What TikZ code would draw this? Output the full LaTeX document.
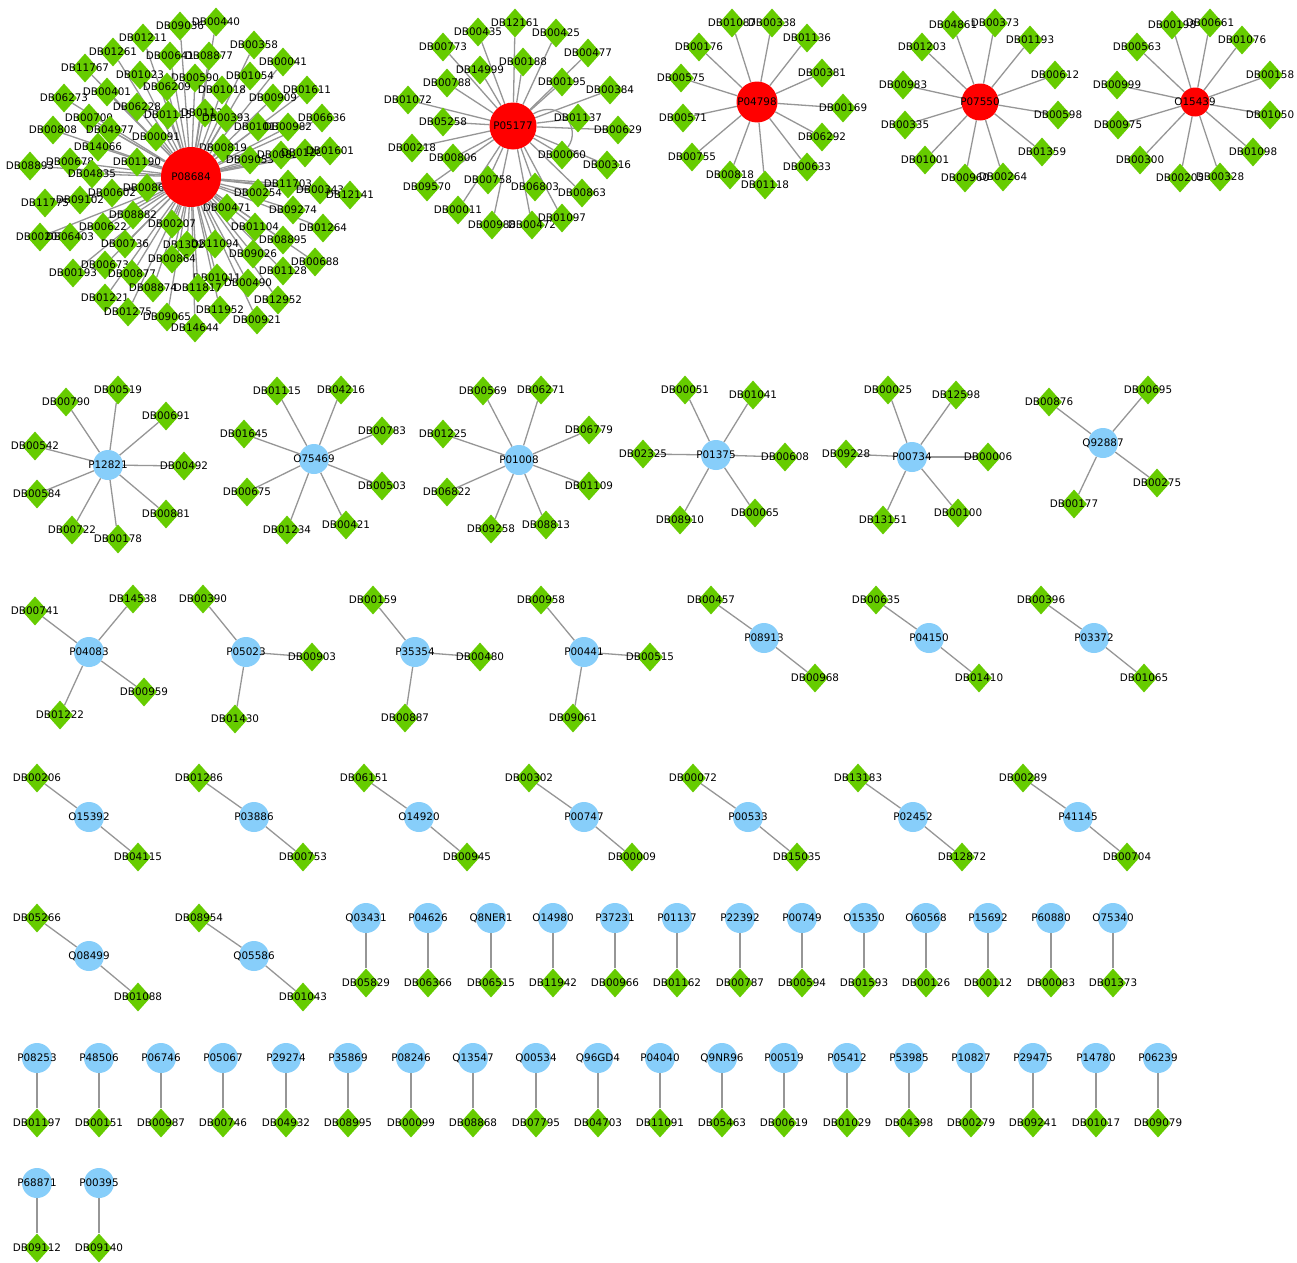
\documentclass[tikz,border=0pt]{standalone}
\usepackage{fontspec}
\newfontfamily\lblfont{DejaVu Sans}
\usetikzlibrary{shapes.geometric}
\pgfdeclarelayer{edgelayer}
\pgfsetlayers{edgelayer,main}
\definecolor{druggreen}{RGB}{102,204,0}
\definecolor{protblue}{RGB}{135,206,250}
\definecolor{hubred}{RGB}{255,0,0}
\definecolor{edgegray}{RGB}{150,150,150}
\newcommand\lblsize{\lblfont\fontsize{10.4}{12}\selectfont}
\tikzset{
  edge/.style={draw=edgegray, line width=1.3pt},
  drug/.style={shape=diamond, fill=druggreen, minimum width=26pt, minimum height=29pt, inner sep=0pt},
  prot/.style={circle, fill=protblue, minimum size=30pt, inner sep=0pt},
  hub/.style={circle, fill=hubred, inner sep=0pt},
  every label/.style={font=\lblsize, inner sep=0pt, text=black},
}
% one target with its drugs: #1 target id, #2 target style, #3 position, #4 drugs id/x/y
\newcommand\starcomp[4]{%
  \foreach \lf/\lx/\ly in {#4}{\node[drug,label={center:\lf}] (#1-\lf) at (\lx,\ly) {};}
  \node[#2,label={center:#1}] (#1) at (#3) {};
  \begin{pgfonlayer}{edgelayer}
    \foreach \lf/\lx/\ly in {#4}{\draw[edge] (#1) -- (#1-\lf);}
  \end{pgfonlayer}
}
\begin{document}
\begin{tikzpicture}[x=1pt,y=-1pt]
\begin{pgfonlayer}{edgelayer}
  \path[fill=white,use as bounding box] (0,0) rectangle (1297,1259);
\end{pgfonlayer}

% ---- large hubs ----
\starcomp{P08684}{hub,minimum size=60pt}{191,177}{DB09036/180/26, DB00440/216/22, DB01211/143/38, DB01261/113/52, DB00641/170/56, DB08877/209/56, DB00358/254/45, DB11767/85/68, DB01023/140/75, DB00590/195/78, DB01054/250/76, DB00041/283/62, DB06209/167/87, DB01018/222/90, DB00401/107/92, DB06273/64/98, DB06228/137/107, DB00700/89/118, DB00909/273/98, DB01611/307/90, DB01115/168/115, DB01136/205/113, DB00393/226/118, DB01012/258/127, DB00982/288/127, DB06636/322/118, DB04977/110/130, DB00091/156/137, DB00808/53/130, DB00819/223/148, DB09053/250/160, DB00822/281/155, DB01283/305/153, DB01601/330/151, DB14066/98/147, DB01190/137/162, DB00678/70/162, DB08893/30/166, DB04835/92/174, DB00862/147/188, DB00602/112/193, DB09102/80/200, DB11775/45/203, DB08882/133/215, DB00622/103/227, DB00203/40/237, DB06403/70/237, DB00207/172/224, DB00254/258/193, DB00471/227/208, DB11703/288/184, DB00343/320/190, DB12141/350/195, DB09274/293/210, DB01104/255/227, DB01264/323/228, DB00736/125/244, DB13025/187/245, DB11094/215/244, DB08895/283/240, DB09026/253/254, DB00864/172/259, DB00688/315/262, DB00193/73/273, DB00673/105/265, DB00877/132/274, DB01011/217/278, DB00490/248/283, DB01128/283/271, DB08874/153/288, DB11817/198/288, DB01221/105/298, DB11952/220/310, DB12952/278/300, DB01275/128/312, DB09065/167/317, DB00921/257/320, DB14644/195/328}

\starcomp{P05177}{hub,minimum size=47pt}{513,126}{DB12161/515/23, DB00435/478/32, DB00425/556/33, DB00773/443/47, DB00477/588/53, DB00188/523/62, DB14999/480/70, DB00195/562/82, DB00788/447/83, DB00384/610/90, DB01072/408/100, DB05258/443/122, DB01137/578/118, DB00629/618/130, DB00218/412/148, DB00806/453/158, DB00060/562/155, DB00316/607/165, DB09570/427/187, DB00758/488/180, DB06803/535/187, DB00863/582/193, DB00011/458/210, DB00988/492/225, DB00472/532/225, DB01097/562/218}
\begin{pgfonlayer}{edgelayer}
  \draw[edge] (P05177) .. controls (560,98) and (582,128) .. (P05177-DB00060);
\end{pgfonlayer}

\starcomp{P04798}{hub,minimum size=41pt}{757,102}{DB01087/732/23, DB00338/772/23, DB01136/807/38, DB00176/699/47, DB00381/822/73, DB00575/681/78, DB00169/843/108, DB00571/683/118, DB06292/822/137, DB00755/692/157, DB00633/807/167, DB00818/730/175, DB01118/765/185}

\starcomp{P07550}{hub,minimum size=37pt}{980,102}{DB04861/953/25, DB00373/995/23, DB01193/1030/40, DB01203/922/47, DB00612/1055/75, DB00983/903/85, DB00598/1058/115, DB00335/905/125, DB01359/1042/152, DB01001/925/160, DB00960/965/178, DB00264/1003/177}

\starcomp{O15439}{hub,minimum size=29pt}{1195,102}{DB00198/1172/25, DB00661/1210/23, DB01076/1242/40, DB00563/1137/47, DB00158/1270/75, DB00999/1117/85, DB01050/1270/115, DB00975/1118/125, DB01098/1253/152, DB00300/1140/160, DB00205/1180/178, DB00328/1220/177}

% ---- second row ----
\starcomp{P12821}{prot}{108,465}{DB00519/118/390, DB00790/66/402, DB00691/166/416, DB00542/35/446, DB00492/184/466, DB00584/37/494, DB00881/166/514, DB00722/72/530, DB00178/118/539}
\starcomp{O75469}{prot}{314,459}{DB01115/277/391, DB04216/341/390, DB01645/244/434, DB00783/382/431, DB00675/247/492, DB00503/382/486, DB01234/287/530, DB00421/346/525}
\starcomp{P01008}{prot}{519,460}{DB00569/483/391, DB06271/541/390, DB01225/443/434, DB06779/589/430, DB06822/447/492, DB01109/589/486, DB09258/491/529, DB08813/546/525}
\starcomp{P01375}{prot}{716,455}{DB00051/685/390, DB01041/753/395, DB02325/643/454, DB00608/785/457, DB08910/680/520, DB00065/755/513}
\starcomp{P00734}{prot}{912,457}{DB00025/888/390, DB12598/956/395, DB09228/846/454, DB00006/988/457, DB13151/883/520, DB00100/958/513}
\starcomp{Q92887}{prot}{1103,443}{DB00876/1049/402, DB00695/1148/390, DB00275/1157/483, DB00177/1074/504}

% ---- third row ----
\starcomp{P04083}{prot}{89,652}{DB00741/35/611, DB14538/133/599, DB00959/144/692, DB01222/60/715}
\starcomp{P05023}{prot}{246,652}{DB00390/203/599, DB00903/312/657, DB01430/235/719}
\starcomp{P35354}{prot}{415,652}{DB00159/373/600, DB00480/480/657, DB00887/405/718}
\starcomp{P00441}{prot}{584,652}{DB00958/541/600, DB00515/650/657, DB09061/573/718}
\starcomp{P08913}{prot}{764,638}{DB00457/711/600, DB00968/815/678}
\starcomp{P04150}{prot}{929,638}{DB00635/876/600, DB01410/979/678}
\starcomp{P03372}{prot}{1094,638}{DB00396/1041/600, DB01065/1144/678}

% ---- fourth row ----
\starcomp{O15392}{prot}{89,817}{DB00206/37/778, DB04115/138/857}
\starcomp{P03886}{prot}{254,817}{DB01286/199/778, DB00753/303/857}
\starcomp{O14920}{prot}{419,817}{DB06151/364/778, DB00945/467/857}
\starcomp{P00747}{prot}{584,817}{DB00302/529/778, DB00009/632/857}
\starcomp{P00533}{prot}{748,817}{DB00072/693/778, DB15035/797/857}
\starcomp{P02452}{prot}{913,817}{DB13183/858/778, DB12872/962/857}
\starcomp{P41145}{prot}{1078,817}{DB00289/1023/778, DB00704/1127/857}

% ---- fifth row ----
\starcomp{Q08499}{prot}{89,956}{DB05266/37/918, DB01088/138/997}
\starcomp{Q05586}{prot}{254,956}{DB08954/199/918, DB01043/303/997}
\foreach \p/\d/\x in {Q03431/DB05829/366, P04626/DB06366/428, Q8NER1/DB06515/491, O14980/DB11942/553, P37231/DB00966/615, P01137/DB01162/677, P22392/DB00787/740, P00749/DB00594/802, O15350/DB01593/864, O60568/DB00126/926, P15692/DB00112/988, P60880/DB00083/1051, O75340/DB01373/1113}{
  \node[prot,label={center:\p}] (\p) at (\x,918) {};
  \node[drug,label={center:\d}] (\p-\d) at (\x,983) {};
  \begin{pgfonlayer}{edgelayer}\draw[edge] (\p) -- (\p-\d);\end{pgfonlayer}
}

% ---- sixth row ----
\foreach \p/\d/\x in {P08253/DB01197/37, P48506/DB00151/99, P06746/DB00987/161, P05067/DB00746/223, P29274/DB04932/286, P35869/DB08995/348, P08246/DB00099/411, Q13547/DB08868/473, Q00534/DB07795/536, Q96GD4/DB04703/598, P04040/DB11091/660, Q9NR96/DB05463/722, P00519/DB00619/784, P05412/DB01029/847, P53985/DB04398/909, P10827/DB00279/971, P29475/DB09241/1033, P14780/DB01017/1096, P06239/DB09079/1158}{
  \node[prot,label={center:\p}] (\p) at (\x,1058) {};
  \node[drug,label={center:\d}] (\p-\d) at (\x,1123) {};
  \begin{pgfonlayer}{edgelayer}\draw[edge] (\p) -- (\p-\d);\end{pgfonlayer}
}

% ---- last row ----
\foreach \p/\d/\x in {P68871/DB09112/37, P00395/DB09140/99}{
  \node[prot,label={center:\p}] (\p) at (\x,1183) {};
  \node[drug,label={center:\d}] (\p-\d) at (\x,1248) {};
  \begin{pgfonlayer}{edgelayer}\draw[edge] (\p) -- (\p-\d);\end{pgfonlayer}
}
\end{tikzpicture}
\end{document}
